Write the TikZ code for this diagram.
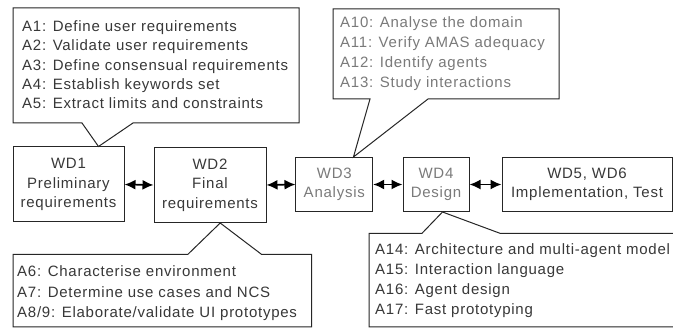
\documentclass[tikz,border=0pt]{standalone}
\usepackage{fontspec}
\setmainfont[LetterSpace=5]{Liberation Sans}
\usetikzlibrary{arrows.meta,calc}

\tikzset{
  wd/.style={draw=black!85, line width=1pt, align=center, inner sep=0pt,
    font=\fontsize{15}{19.5}\selectfont, text=black!78},
  faded/.style={text=black!52},
  callout/.style={draw=black!85, line width=1pt, fill=white, line join=miter},
  item/.style={anchor=base west, inner sep=0pt,
    font=\fontsize{15}{18}\selectfont, text=black!78},
  link/.style={{Latex[length=11pt,width=10pt]}-{Latex[length=11pt,width=10pt]},
    line width=1.6pt, black}
}

\begin{document}
\begin{tikzpicture}[x=1pt,y=-1pt]
\useasboundingbox (0,0) rectangle (673,328);

% work definitions
\node[wd, minimum width=111pt, minimum height=75pt] (wd1) at (68.5,184.5)
  {WD1\\Preliminary\\requirements};
\node[wd, minimum width=112pt, minimum height=75pt] (wd2) at (210,185)
  {WD2\\Final\\requirements};
\node[wd, faded, minimum width=76.7pt, minimum height=54pt] (wd3) at (334.3,184.5)
  {WD3\\Analysis};
\node[wd, faded, minimum width=66pt, minimum height=54pt] (wd4) at (436,184.5)
  {WD4\\Design};
\node[wd, minimum width=170pt, minimum height=54pt] (wd5) at (587,184.5)
  {WD5, WD6\\Implementation, Test};

% links between successive work definitions
\draw[link] (wd1.east) -- (wd2.west);
\draw[link] (wd2.east) -- (wd3.west);
\draw[link] (wd3.east) -- (wd4.west);
\draw[link] (wd4.east) -- (wd5.west);

% activity callouts
\draw[callout] (13,8) -- (299,8) -- (299,123) -- (133,123)
  -- ($(wd1.north west)+(86,0)$) -- (82,123) -- (13,123) -- cycle;
\draw[callout] (333,9) -- (559,9) -- (559,99) -- (428,99)
  -- ($(wd3.north west)+(58,0)$) -- (370,99) -- (333,99) -- cycle;
\draw[callout] (13,254.5) -- (187.7,254.5) -- ($(wd2.south west)+(66.7,0)$)
  -- (261.7,254.5) -- (311.5,254.5) -- (311.5,327) -- (13,327) -- cycle;
\draw[callout] (369,233.3) -- (422,233.3) -- ($(wd4.south west)+(40,0)$)
  -- (500,233.3) -- (690,233.3) -- (690,327) -- (369,327) -- cycle;

% activity lists
\foreach \t [count=\i] in {A1: Define user requirements,
    A2: Validate user requirements, A3: Define consensual requirements,
    A4: Establish keywords set, A5: Extract limits and constraints}
  \node[item] (ca-\i) at (22,{31.7+19.3*(\i-1)}) {\t};
\foreach \t [count=\i] in {A10: Analyse the domain, A11: Verify AMAS adequacy,
    A12: Identify agents, A13: Study interactions}
  \node[item, faded] (cb-\i) at (340,{27.7+20*(\i-1)}) {\t};
\foreach \t [count=\i] in {A6: Characterise environment,
    A7: Determine use cases and NCS, A8/9: Elaborate/validate UI prototypes}
  \node[item] (cc-\i) at (17,{276.7+20.5*(\i-1)}) {\t};
\foreach \t [count=\i] in {A14: Architecture and multi-agent model,
    A15: Interaction language, A16: Agent design, A17: Fast prototyping}
  \node[item] (cd-\i) at (375,{255+20*(\i-1)}) {\t};
\end{tikzpicture}
\end{document}
